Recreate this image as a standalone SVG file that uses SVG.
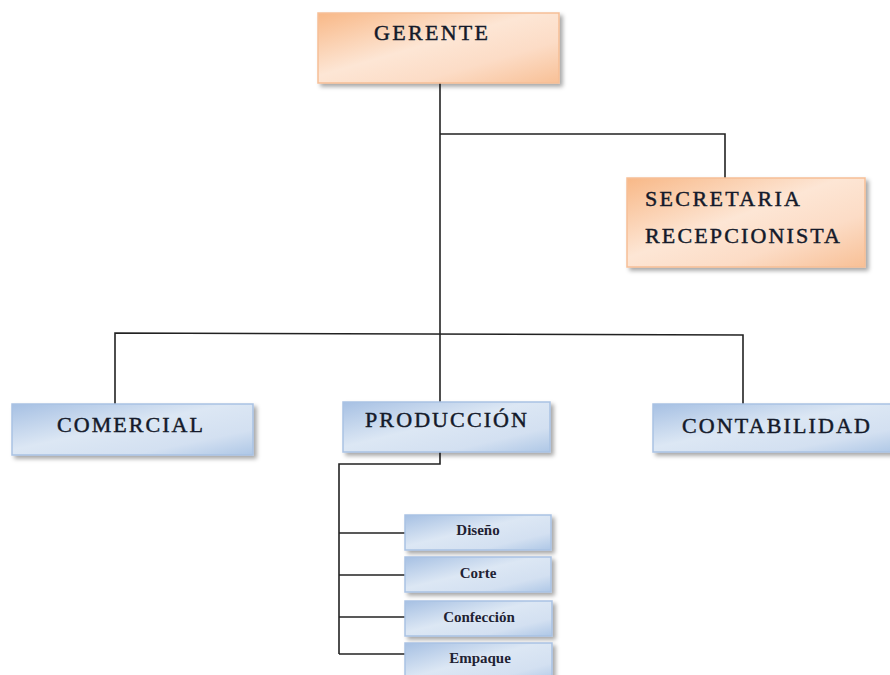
<svg xmlns="http://www.w3.org/2000/svg" width="890" height="675" viewBox="0 0 890 675">
  <defs>
    <linearGradient id="gOrange" x1="0" y1="0" x2="1" y2="1">
      <stop offset="0" stop-color="#f8b887"/>
      <stop offset="0.45" stop-color="#fde6d5"/>
      <stop offset="0.7" stop-color="#fcdcc6"/>
      <stop offset="1" stop-color="#f8c096"/>
    </linearGradient>
    <linearGradient id="gBlue" x1="0" y1="0" x2="1" y2="1">
      <stop offset="0" stop-color="#a6c0e3"/>
      <stop offset="0.45" stop-color="#dce7f4"/>
      <stop offset="0.75" stop-color="#d3e0f1"/>
      <stop offset="1" stop-color="#aec7e6"/>
    </linearGradient>
    <filter id="shadow" x="-10%" y="-20%" width="125%" height="150%">
      <feDropShadow dx="3" dy="3" stdDeviation="2" flood-color="#000" flood-opacity="0.35"/>
    </filter>
  </defs>
  <style>
    .orange { fill: url(#gOrange); stroke: #f6be96; stroke-width: 1.5; filter: url(#shadow); }
    .blue { fill: url(#gBlue); stroke: #a9c2e3; stroke-width: 1.5; filter: url(#shadow); }
    .big { font-family: "Liberation Serif", "Times New Roman", serif; font-size: 22px; fill: #141a2a; stroke: #141a2a; stroke-width: 0.45; }
    .small { font-family: "Liberation Serif", "Times New Roman", serif; font-size: 15px; font-weight: bold; fill: #1f2233; text-anchor: middle; }
    .wire { fill: none; stroke: #222; stroke-width: 1.6; }
  </style>

  <rect width="890" height="675" fill="#ffffff"/>

  <!-- connectors -->
  <g id="connectors">
    <path class="wire" d="M440,83 V402"/>
    <path class="wire" d="M440,134 H725 V178"/>
    <path class="wire" d="M115,404 V333 L743,335 V404"/>
    <path class="wire" d="M440,452 V464 H339 V654"/>
    <path class="wire" d="M339,533 H405"/>
    <path class="wire" d="M339,575 H405"/>
    <path class="wire" d="M339,617 H405"/>
    <path class="wire" d="M339,654 H405"/>
  </g>

  <!-- top management -->
  <g id="gerente">
    <rect class="orange" x="318" y="13" width="241" height="70"/>
    <text class="big" x="374" y="40" textLength="114" lengthAdjust="spacing">GERENTE</text>
  </g>

  <g id="secretaria">
    <rect class="orange" x="627" y="178" width="238" height="89"/>
    <text class="big" x="645" y="206" textLength="155" lengthAdjust="spacing">SECRETARIA</text>
    <text class="big" x="645" y="243" textLength="195" lengthAdjust="spacing">RECEPCIONISTA</text>
  </g>

  <!-- departments -->
  <g id="comercial">
    <rect class="blue" x="12" y="404" width="241" height="51"/>
    <text class="big" x="57" y="432" textLength="146" lengthAdjust="spacing">COMERCIAL</text>
  </g>

  <g id="produccion">
    <rect class="blue" x="343" y="402" width="207" height="50"/>
    <text class="big" x="365" y="427" textLength="162" lengthAdjust="spacing">PRODUCCIÓN</text>
  </g>

  <g id="contabilidad">
    <rect class="blue" x="653" y="404" width="245" height="48"/>
    <text class="big" x="682" y="433" textLength="188" lengthAdjust="spacing">CONTABILIDAD</text>
  </g>

  <!-- production stages -->
  <g id="diseno">
    <rect class="blue" x="405" y="515" width="146" height="35"/>
    <text class="small" x="478" y="535">Diseño</text>
  </g>

  <g id="corte">
    <rect class="blue" x="405" y="557" width="146" height="35"/>
    <text class="small" x="478" y="578">Corte</text>
  </g>

  <g id="confeccion">
    <rect class="blue" x="405" y="601" width="147" height="35"/>
    <text class="small" x="479" y="622">Confección</text>
  </g>

  <g id="empaque">
    <rect class="blue" x="405" y="643" width="147" height="40"/>
    <text class="small" x="480" y="663">Empaque</text>
  </g>
</svg>
